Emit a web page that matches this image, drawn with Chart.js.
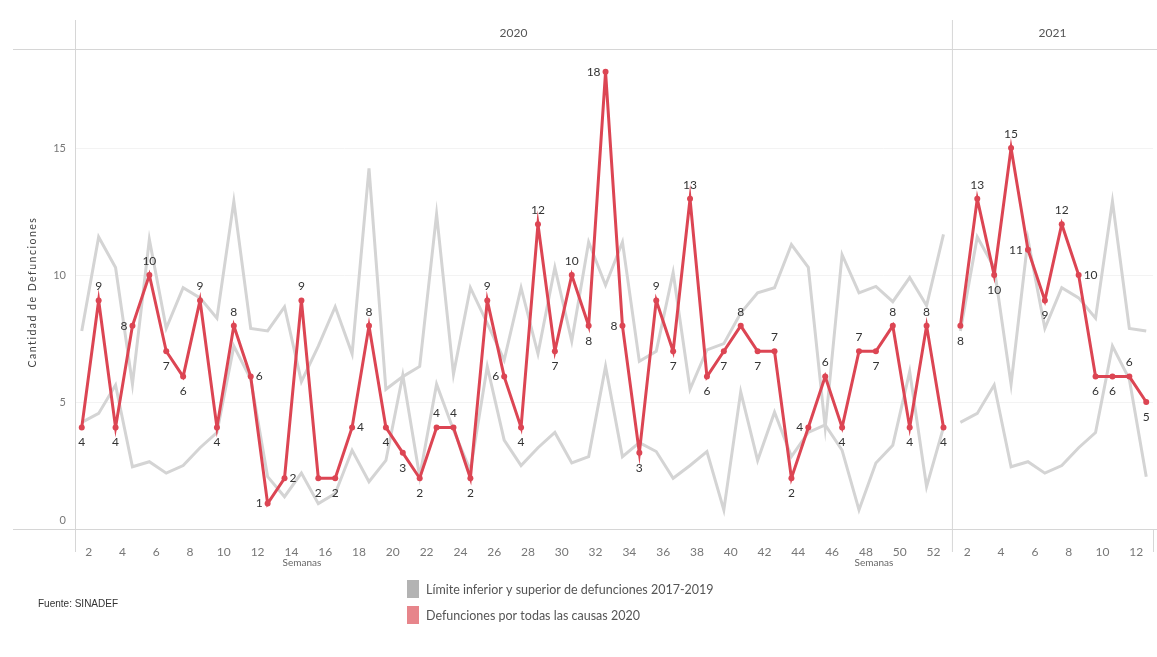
<!DOCTYPE html>
<html>
<head>
<meta charset="utf-8">
<script src="https://cdn.jsdelivr.net/npm/chart.js@4.4.1/dist/chart.umd.min.js"></script>
<style>
  body { margin: 0; background: #fff; }
  #wrap { width: 1157px; height: 657px; }
</style>
</head>
<body>
<div id="wrap"><canvas id="defChart" width="1157" height="657"></canvas></div>
<script>
// semanas epidemiologicas
const semanas2020 = [1,2,3,4,5,6,7,8,9,10,11,12,13,14,15,16,17,18,19,20,21,22,23,24,25,26,
                     27,28,29,30,31,32,33,34,35,36,37,38,39,40,41,42,43,44,45,46,47,48,49,50,51,52];
const semanas2021 = [1,2,3,4,5,6,7,8,9,10,11,12];

// defunciones por todas las causas
const def2020 = [4,9,4,8,10,7,6,9,4,8,6,1,2,9,2,2,4,8,4,3,2,4,4,2,9,6,
                 4,12,7,10,8,18,8,3,9,7,13,6,7,8,7,7,2,4,6,4,7,7,8,4,8,4];
const def2021 = [8,13,10,15,11,9,12,10,6,6,6,5];

// limites 2017-2019 (por semana)
const limSup = [7.8,11.5,10.3,5.7,11.4,7.9,9.5,9.1,8.3,12.9,7.9,7.8,8.75,5.8,7.2,8.75,6.9,14.2,5.5,6.0,6.4,12.4,6.1,9.5,8.1,6.65,
                9.5,6.9,10.3,7.4,11.3,9.6,11.3,6.6,7.0,10.1,5.5,7.05,7.3,8.5,9.3,9.5,11.2,10.3,4.0,10.8,9.3,9.55,8.95,9.9,8.8,11.6];
const limInf = [4.2,4.55,5.67,2.45,2.65,2.2,2.5,3.2,3.8,7.2,5.9,2.06,1.27,2.2,1.0,1.4,3.1,1.86,2.7,6.06,2.06,5.7,3.9,2.3,6.4,3.5,
                2.5,3.2,3.8,2.6,2.85,6.4,2.85,3.4,3.05,2.0,2.5,3.05,0.75,5.4,2.7,4.6,2.85,3.8,4.1,3.1,0.75,2.6,3.3,6.2,1.67,4.0];
const limSup2021 = [7.8,11.5,10.3,5.7,11.4,7.9,9.5,9.1,8.3,12.9,7.9,7.8];
const limInf2021 = [4.2,4.55,5.67,2.45,2.65,2.2,2.5,3.2,3.8,7.2,5.9,2.06];

const ticksSemana = [2,4,6,8,10,12,14,16,18,20,22,24,26,28,30,32,34,36,38,40,42,44,46,48,50,52];
const ticks2021 = [2,4,6,8,10,12];
const ticksY = [0,5,10,15];

// donde va cada etiqueta (t arriba, b abajo, l izq, r der)
const posEtq2020 = 'btbltbbtbt' + 'rlrtbbrtbb' + 'bttbtlbtbt' + 'bllbtbtbbt' + 'btbltbtbtb' + 'tb';
const posEtq2021 = 'btbtlbtrbbtb';

const OFFSET_2021 = 52; // semanas 2021 van despues del panel 2020
const ROJO = '#dc4553';
const GRIS = '#d4d4d4';
const FUENTE = 'Lato, "Open Sans", sans-serif';

function puntos(xs, ys, off) {
    return ys.map((v, i) => ({ x: xs[i] + off, y: v }));
}

const grisLinea = (data) => ({
    data: data,
    borderColor: GRIS,
    borderWidth: 3,
    pointRadius: 0,
    tension: 0,
    order: 2
});
const rojaLinea = (data) => ({
    data: data,
    borderColor: ROJO,
    backgroundColor: ROJO,
    borderWidth: 3,
    pointRadius: 3,
    pointBorderWidth: 0,
    tension: 0,
    order: 1
});

const decoPlugin = {
    id: 'deco',
    beforeDatasetsDraw(chart) {
        const c = chart.ctx, a = chart.chartArea, xs = chart.scales.x;
        const div = xs.getPixelForValue(OFFSET_2021 + 0.5);
        c.save();
        c.strokeStyle = '#d6d6d6';
        c.lineWidth = 1;
        c.beginPath();
        c.moveTo(13, a.top + 0.5); c.lineTo(1157, a.top + 0.5);
        c.moveTo(13, a.bottom + 0.5); c.lineTo(1157, a.bottom + 0.5);
        c.moveTo(a.left + 0.5, 20); c.lineTo(a.left + 0.5, 552);
        c.moveTo(div + 0.5, 20); c.lineTo(div + 0.5, 552);
        c.moveTo(a.right + 0.5, a.bottom); c.lineTo(a.right + 0.5, 552);
        c.stroke();

        c.fillStyle = '#555';
        c.font = '12px ' + FUENTE;
        c.textAlign = 'center';
        c.textBaseline = 'middle';
        c.fillText('2020', (a.left + div) / 2, 33);
        c.fillText('2021', (div + a.right) / 2, 33);

        c.font = '10px ' + FUENTE;
        c.fillStyle = '#666';
        c.fillText('Semanas', 302, 563);
        c.fillText('Semanas', 874, 563);

        // el 0 va un poco por encima del eje
        c.fillStyle = '#777';
        c.font = '11px ' + FUENTE;
        c.textAlign = 'right';
        c.fillText('0', a.left - 9, a.bottom - 9);

        c.save();
        c.translate(33, 292);
        c.rotate(-Math.PI / 2);
        c.fillStyle = '#444';
        c.textAlign = 'center';
        c.font = '10.5px ' + FUENTE;
        c.letterSpacing = '1.5px';
        c.fillText('Cantidad de Defunciones', 0, 0);
        c.restore();

        // leyenda
        c.textAlign = 'left';
        c.fillStyle = '#b3b3b3';
        c.fillRect(407, 580, 12, 18);
        c.fillStyle = '#e7858b';
        c.fillRect(407, 606, 12, 18);
        c.fillStyle = '#555';
        c.font = '12.5px ' + FUENTE;
        c.fillText('L\u00edmite inferior y superior de defunciones 2017-2019', 426, 590);
        c.fillText('Defunciones por todas las causas 2020', 426, 616);

        c.font = '10px "Liberation Sans", Arial, sans-serif';
        c.fillStyle = '#333';
        c.fillText('Fuente: SINADEF', 38, 604);
        c.restore();
    },
    afterDatasetsDraw(chart) {
        const c = chart.ctx;
        c.save();
        c.font = '12px ' + FUENTE;
        c.fillStyle = '#333';
        c.textBaseline = 'middle';
        const pares = [[0, def2020, posEtq2020], [1, def2021, posEtq2021]];
        pares.forEach(([idx, vals, pos]) => {
            const meta = chart.getDatasetMeta(idx);
            meta.data.forEach((pt, i) => {
                const p = pos[i];
                let x = pt.x, y = pt.y;
                c.textAlign = 'center';
                if (p === 't') y -= 14;
                else if (p === 'b') y += 15;
                else if (p === 'l') { x -= 5; c.textAlign = 'right'; }
                else { x += 5; c.textAlign = 'left'; }
                c.fillText(String(vals[i]), x, y);
            });
        });
        c.restore();
    }
};

const ctx = document.getElementById('defChart').getContext('2d');
const chart = new Chart(ctx, {
    type: 'line',
    data: {
        datasets: [
            rojaLinea(puntos(semanas2020, def2020, 0)),
            rojaLinea(puntos(semanas2021, def2021, OFFSET_2021)),
            grisLinea(puntos(semanas2020, limSup, 0)),
            grisLinea(puntos(semanas2020, limInf, 0)),
            grisLinea(puntos(semanas2021, limSup2021, OFFSET_2021)),
            grisLinea(puntos(semanas2021, limInf2021, OFFSET_2021))
        ]
    },
    options: {
        responsive: false,
        animation: false,
        layout: { padding: { top: 49, right: 2, bottom: 100, left: 0 } },
        plugins: { legend: { display: false }, tooltip: { enabled: false } },
        scales: {
            x: {
                type: 'linear',
                min: 0.6,
                max: 64.4,
                grid: { display: false },
                border: { display: false },
                afterBuildTicks: (s) => {
                    s.ticks = ticksSemana.concat(ticks2021.map(t => t + OFFSET_2021)).map(v => ({ value: v }));
                },
                afterFit: (s) => {
                    s.height = 28;
                    s.paddingLeft = 0;
                    s.paddingRight = 0;
                },
                ticks: {
                    autoSkip: false,
                    maxRotation: 0,
                    padding: 8,
                    labelOffset: -10,
                    color: '#777',
                    font: { family: FUENTE, size: 12 },
                    callback: (v) => v > OFFSET_2021 ? v - OFFSET_2021 : v
                }
            },
            y: {
                min: 0,
                max: 18.9,
                grid: { color: '#f3f3f3', drawTicks: false },
                border: { display: false },
                afterBuildTicks: (s) => { s.ticks = ticksY.map(v => ({ value: v })); },
                afterFit: (s) => { s.width = 75; },
                ticks: {
                    padding: 9,
                    color: '#777',
                    font: { family: FUENTE, size: 11 },
                    callback: (v) => v === 0 ? '' : v
                }
            }
        }
    },
    plugins: [decoPlugin]
});
</script>
</body>
</html>
